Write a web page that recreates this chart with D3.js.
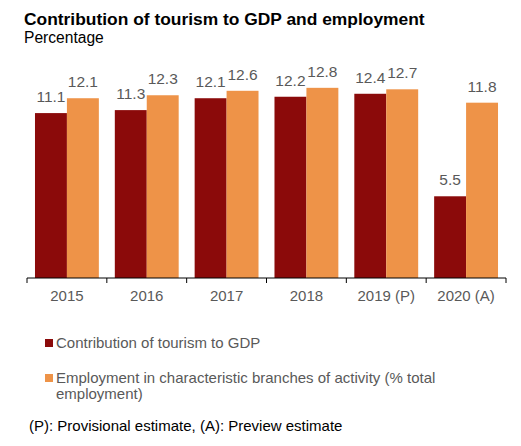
<!DOCTYPE html>
<html>
<head>
<meta charset="utf-8">
<script src="https://cdn.jsdelivr.net/npm/d3@7"></script>
<style>
  body { margin: 0; background: #fff; }
  text { font-family: "Liberation Sans", Arial, sans-serif; }
</style>
</head>
<body>
<svg id="chart" width="521" height="446"></svg>
<script>
// --------DATA--------------
var years = ["2015", "2016", "2017", "2018", "2019 (P)", "2020 (A)"];
var gdpShare = [11.1, 11.3, 12.1, 12.2, 12.4, 5.5];
var employmentShare = [12.1, 12.3, 12.6, 12.8, 12.7, 11.8];
var seriesNames = ["Contribution of tourism to GDP",
                   "Employment in characteristic branches of activity (% total employment)"];
var seriesColors = ["#8b0a0a", "#ee9348"];

var svg = d3.select("#chart");

// --------SCALES--------------
var x0 = d3.scaleBand()
  .domain(years)
  .range([27, 506])
  .paddingInner(0.2)
  .paddingOuter(0.1);

var x1 = d3.scaleBand()
  .domain([0, 1])
  .range([0, x0.bandwidth()]);

var y = d3.scaleLinear()
  .domain([0, 14])
  .range([278, 70]);

var rows = years.map(function(yr, i) {
  return { year: yr, values: [gdpShare[i], employmentShare[i]] };
});

// --------TITLE--------------
svg.append("text")
  .attr("x", 24).attr("y", 25)
  .style("font-size", "17.4px").style("font-weight", "bold")
  .attr("fill", "#000")
  .text("Contribution of tourism to GDP and employment");

svg.append("text")
  .attr("x", 24).attr("y", 43)
  .style("font-size", "15.6px")
  .attr("fill", "#000")
  .text("Percentage");

// --------BARS--------------
var groups = svg.selectAll("g.year")
  .data(rows)
  .enter()
  .append("g")
  .attr("class", "year")
  .attr("transform", function(d) { return "translate(" + x0(d.year) + ",0)"; });

groups.selectAll("rect")
  .data(function(d) { return d.values; })
  .enter()
  .append("rect")
  .attr("x", function(d, i) { return x1(i); })
  .attr("width", x1.bandwidth())
  .attr("y", function(d) { return y(d); })
  .attr("height", function(d) { return y(0) - y(d); })
  .attr("fill", function(d, i) { return seriesColors[i]; });

groups.selectAll("text.val")
  .data(function(d) { return d.values; })
  .enter()
  .append("text")
  .attr("class", "val")
  .attr("x", function(d, i) { return x1(i) + x1.bandwidth() / 2; })
  .attr("y", function(d) { return y(d) - 11; })
  .attr("text-anchor", "middle")
  .style("font-size", "15.5px")
  .attr("fill", "#595959")
  .text(function(d) { return d.toFixed(1); });

// --------AXIS--------------
var axisG = svg.append("g").attr("transform", "translate(0," + y(0) + ")");

axisG.append("line")
  .attr("x1", x0.range()[0]).attr("x2", x0.range()[1])
  .attr("stroke", "#000").attr("stroke-width", 1);

// tick marks sit on the band boundaries
var bounds = years.map(function(yr) { return x0(yr) - x0.step() * x0.paddingOuter(); });
bounds.push(x0.range()[1]);
axisG.selectAll("line.tick")
  .data(bounds)
  .enter()
  .append("line")
  .attr("class", "tick")
  .attr("x1", function(d) { return d; }).attr("x2", function(d) { return d; })
  .attr("y1", 0).attr("y2", 5)
  .attr("stroke", "#000");

axisG.selectAll("text")
  .data(years)
  .enter()
  .append("text")
  .attr("x", function(d) { return x0(d) + x0.bandwidth() / 2; })
  .attr("y", 23)
  .attr("text-anchor", "middle")
  .style("font-size", "15px")
  .attr("fill", "#595959")
  .text(function(d) { return d; });

// --------LEGEND--------------
var legendRows = [
  { lines: [seriesNames[0]], y: 348 },
  { lines: ["Employment in characteristic branches of activity (% total", "employment)"], y: 383 }
];

var legend = svg.selectAll("g.legend")
  .data(legendRows)
  .enter()
  .append("g")
  .attr("class", "legend");

legend.append("rect")
  .attr("x", 45).attr("y", function(d) { return d.y - 9; })
  .attr("width", 8).attr("height", 8)
  .attr("fill", function(d, i) { return seriesColors[i]; });

legend.each(function(d) {
  var t = d3.select(this).append("text")
    .attr("x", 56).attr("y", d.y)
    .style("font-size", "15px")
    .attr("fill", "#595959");
  d.lines.forEach(function(line, j) {
    t.append("tspan").attr("x", 56).attr("dy", j ? 16 : 0).text(line);
  });
});

svg.append("text")
  .attr("x", 29).attr("y", 431)
  .style("font-size", "15px")
  .attr("fill", "#000")
  .text("(P): Provisional estimate, (A): Preview estimate");
</script>
</body>
</html>
